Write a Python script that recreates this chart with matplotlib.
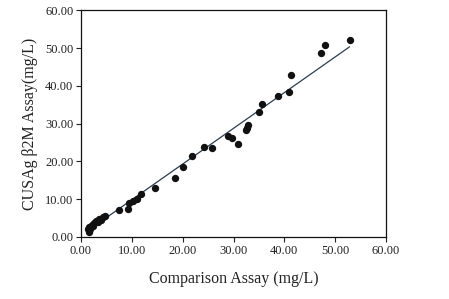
import matplotlib
matplotlib.use("Agg")
import matplotlib.pyplot as plt
import numpy as np

# comparison assay (x) vs CUSAg b2M assay (y), mg/L
comparison = [1.4, 1.6, 1.6, 1.8, 2.1, 2.4, 2.6, 3.0, 3.3, 3.6, 4.0, 4.3, 4.7,
              7.5, 9.2, 9.5, 10.3, 11.0, 11.8, 14.6, 18.5, 20.1, 21.9,
              24.2, 25.7, 29.0, 29.8, 30.8, 32.5, 32.6, 32.9, 35.0, 35.6,
              38.8, 40.9, 41.3, 47.2, 48.0, 52.9]
cusag = [2.0, 1.4, 2.6, 2.2, 3.2, 2.9, 3.8, 4.3, 4.0, 4.7, 4.5, 5.2, 5.6,
         7.1, 7.3, 9.1, 9.6, 10.0, 11.4, 12.9, 15.5, 18.6, 21.5,
         23.9, 23.5, 26.7, 26.1, 24.6, 28.3, 28.8, 29.6, 33.1, 35.2,
         37.3, 38.4, 42.9, 48.7, 50.8, 52.1]

# regression line
fit_slope = 0.946
fit_intercept = 0.4
fit_range = [1.2, 52.8]

ticks = [0, 10, 20, 30, 40, 50, 60]

fig = plt.figure(figsize=(4.49, 2.99), dpi=100)
ax = fig.add_axes([0.1804, 0.2074, 0.6793, 0.7575])

ax.scatter(comparison, cusag, s=28, color="#111111", zorder=3, linewidths=0)
lx = np.array(fit_range)
ax.plot(lx, fit_slope * lx + fit_intercept, color="#2b3d52", linewidth=0.9, zorder=2)

ax.set_xlim(0, 60)
ax.set_ylim(0, 60)
ax.set_xticks(ticks)
ax.set_yticks(ticks)
ax.set_xticklabels(["%.2f" % t for t in ticks])
ax.set_yticklabels(["%.2f" % t for t in ticks])
ax.tick_params(direction="out", length=3.5, width=0.8, labelsize=9,
               colors="#222222", pad=2)
for s in ax.spines.values():
    s.set_linewidth(0.9)
    s.set_color("#111111")

for lab in ax.get_xticklabels() + ax.get_yticklabels():
    lab.set_family("Liberation Serif")

ax.set_xlabel("Comparison Assay (mg/L)", family="Liberation Serif",
              fontsize=11.5, labelpad=10, color="#222222")
ax.set_ylabel("CUSAg β2M Assay(mg/L)", family="Liberation Serif",
              fontsize=11.5, labelpad=5, color="#222222")

fig.savefig("out.png", dpi=100)
